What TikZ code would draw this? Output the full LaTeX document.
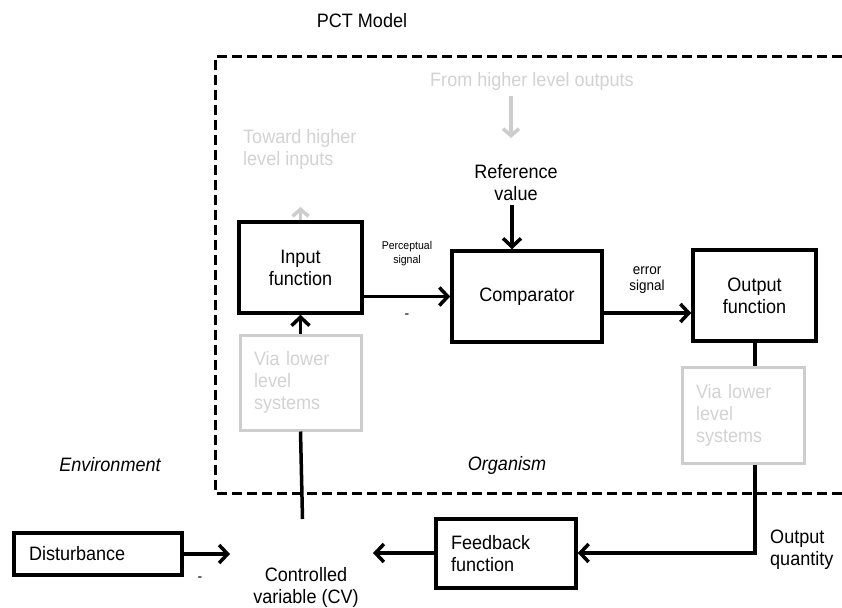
\documentclass[tikz,border=0pt]{standalone}
\usepackage{fontspec}
\setmainfont[FakeStretch=0.93]{Liberation Sans}
\usetikzlibrary{arrows.meta}
\definecolor{lgray}{RGB}{205,205,205}
\definecolor{tgray}{RGB}{210,210,210}
\begin{document}
\begin{tikzpicture}[x=1pt,y=-1pt,
  every node/.style={font=\fontsize{19.4}{22}\selectfont},
  blk/.style={draw=black, line width=3.5pt, rectangle, inner sep=0pt, align=center},
  gblk/.style={draw=lgray, line width=3pt, rectangle, inner ysep=0pt, inner xsep=14pt, align=left, text=tgray},
  arr/.style={line width=3.5pt, -{Straight Barb[length=8.5pt,width=18pt]}},
  garr/.style={draw=lgray, line width=3.5pt, -{Straight Barb[length=7pt,width=16pt]}},
  ln/.style={line width=3.5pt},
  dashbox/.style={line width=3pt, dash pattern=on 10pt off 5pt},
  gtext/.style={text=tgray, align=left, inner sep=0pt},
  plain/.style={align=center, inner sep=0pt}
]
\useasboundingbox (0,0) rectangle (842,607);

% dashed organism boundary
\draw[dashbox] (842,57) -- (215,57) -- (215,493) -- (842,493);

% texts
\node[plain] (pct) at (362,21) {PCT Model};
\node[gtext] (fromhigh) at (532,81) {From higher level outputs};
\node[gtext, anchor=west] (toward) at (243,149) {Toward higher\\level inputs};
\node[plain] (ref) at (516,183) {Reference\\value};
\node[plain, font=\fontsize{11.3}{14}\selectfont] (perc) at (407,254) {Perceptual\\signal};
\node[plain, font=\fontsize{14.5}{16}\selectfont] (err) at (647,280) {error\\signal};
\node[plain, font=\fontsize{15}{18}\selectfont] (minus1) at (407,316) {-};
\node[plain, font=\fontsize{15}{18}\selectfont] (minus2) at (200,579) {-};
\node[plain, font=\itshape\fontsize{19.4}{22}\selectfont] (env) at (110,465) {Environment};
\node[plain, font=\itshape\fontsize{19.4}{22}\selectfont] (org) at (507,465) {Organism};
\node[plain] (cv) at (306,587) {Controlled\\variable (CV)};
\node[plain, anchor=west, align=left] (oq) at (770,549.5) {Output\\quantity};

% boxes
\node[blk, minimum width=123pt, minimum height=91pt] (inp) at (300.5,267.5) {Input\\function};
\node[blk, minimum width=150pt, minimum height=91pt] (comp) at (527,296.5) {Comparator};
\node[blk, minimum width=123pt, minimum height=91pt] (out) at (754.5,295.5) {Output\\function};
\node[gblk, text width=93pt, minimum height=95pt] (lg) at (300.5,382.5) {Via lower\\level\\systems};
\node[gblk, text width=94pt, minimum height=96pt] (rg) at (743,415) {Via lower\\level\\systems};
\node[blk, inner xsep=15pt, text width=110pt, align=left, minimum height=69pt] (fb) at (506,553.5) {Feedback\\function};
\node[blk, inner xsep=15pt, text width=138pt, align=left, minimum height=42pt] (dist) at (98,554) {Disturbance};

% coordinates
\coordinate (fh1) at (511,96);
\coordinate (fh2) at (511,138);
\coordinate (tup) at (300.5,207);
\coordinate (rx) at (512,0);
\coordinate (ey) at (0,313);
\coordinate (cvtop) at (302.5,519);
\coordinate (corner) at (755,553);
\coordinate (cvr) at (373,553);
\coordinate (cvl) at (230,554);

% connectors
\draw[garr] (fh1) -- (fh2);
\draw[garr] (inp.north) -- (tup);
\draw[arr] (ref.south -| rx) ++(0,4) -- (comp.north -| rx);
\draw[arr] (comp.west -| inp.east) -- (comp.west);
\draw[arr] (comp.east |- ey) -- (out.west |- ey);
\draw[arr] (lg.north) -- (inp.south);
\draw[ln] (lg.south) -- (cvtop);
\draw[ln] (out.south -| corner) -- (rg.north -| corner);
\draw[arr] (rg.south -| corner) -- (corner) -- (fb.east |- corner);
\draw[arr] (fb.west |- cvr) -- (cvr);
\draw[arr] (dist.east) -- (cvl);
\end{tikzpicture}
\end{document}
